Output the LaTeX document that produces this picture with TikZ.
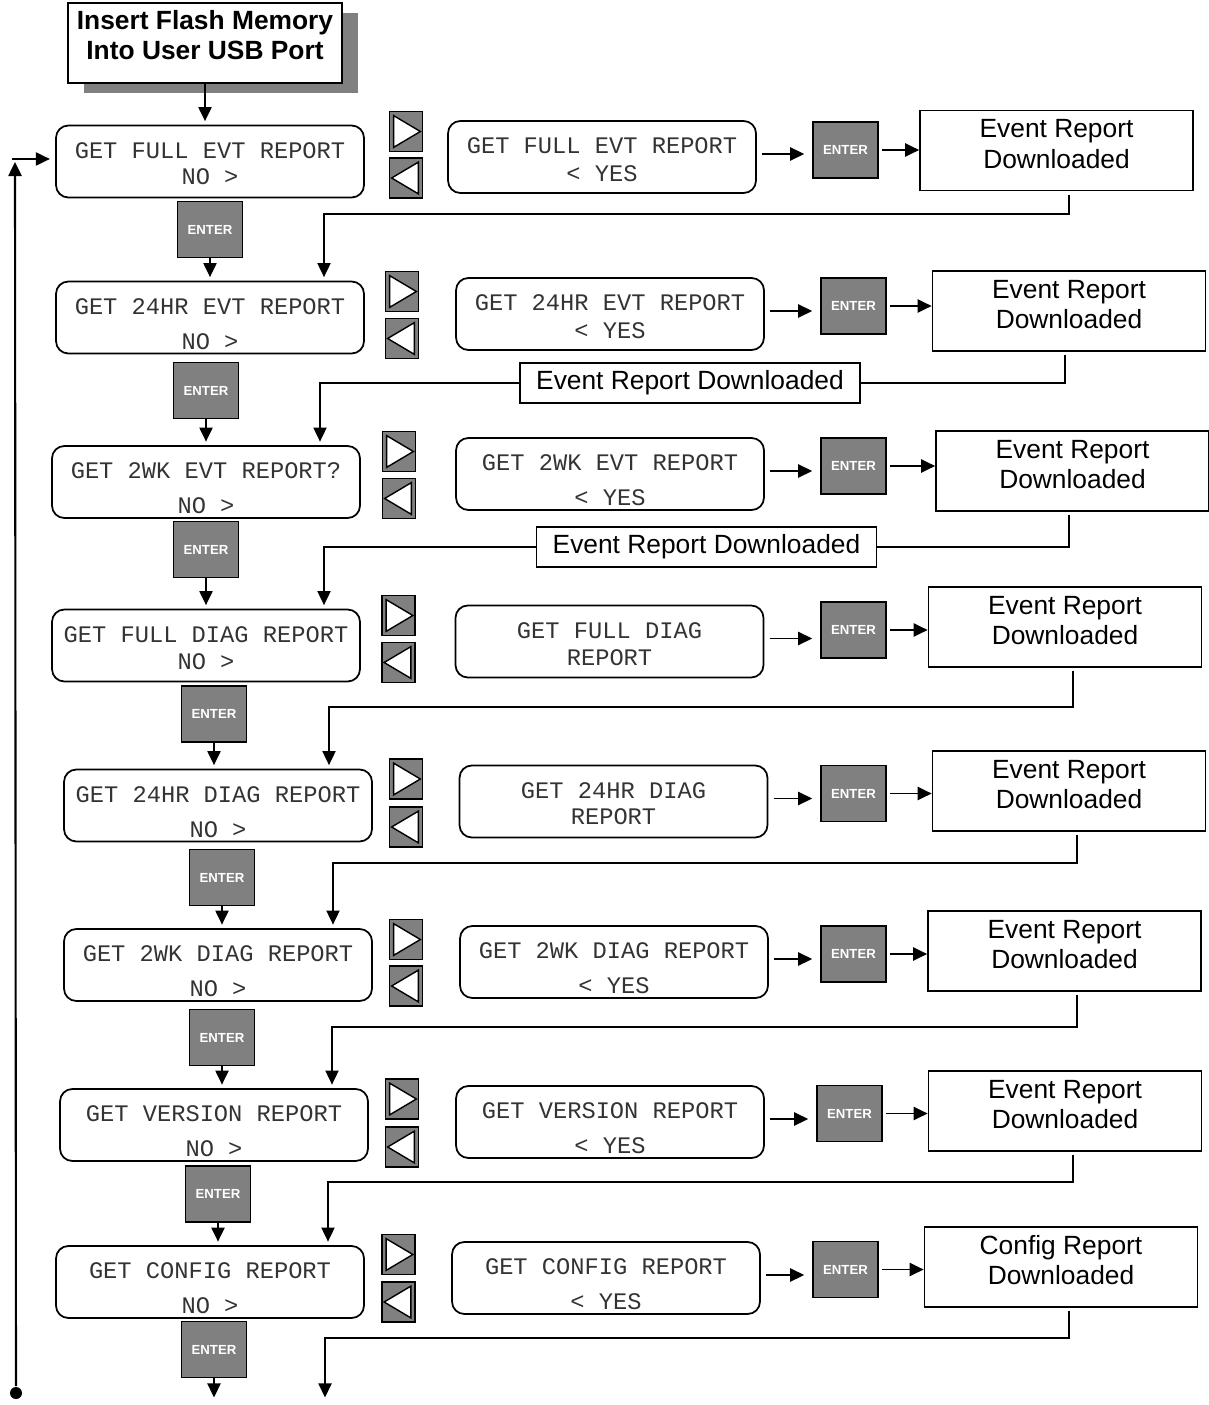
\documentclass[tikz,border=0pt]{standalone}
\usepackage{fontspec}
\setmainfont{Liberation Sans}
\setmonofont{Liberation Mono}
\usetikzlibrary{arrows.meta, shadows}
\definecolor{btngray}{RGB}{128,128,128}
\newcommand{\twolines}[3]{\begin{tabular}[t]{@{}c@{}}#1\\[#3]#2\end{tabular}}

\begin{document}
\begin{tikzpicture}[x=0.02cm, y=-0.02cm, line width=1pt,
  lcd/.style={draw, rounded corners=7pt, minimum width=6.16cm, minimum height=1.44cm,
    font=\ttfamily\fontsize{13.5}{16}\selectfont, text=black!80,
    text height=0pt, text depth=3.6pt},
  enterbtn/.style={draw, fill=btngray, minimum width=1.3cm, minimum height=1.12cm,
    text=white, font=\bfseries\fontsize{7.5}{9}\selectfont},
  navbtn/.style={draw, fill=btngray, minimum width=0.66cm, minimum height=0.8cm, inner sep=0pt},
  result/.style={draw, minimum width=5.46cm, minimum height=1.6cm, align=center,
    font=\fontsize{15}{17.5}\selectfont, text height=20.4pt, text depth=0pt},
  dlbox/.style={draw, fill=white, minimum width=6.8cm, minimum height=0.8cm,
    font=\fontsize{15}{18}\selectfont},
  arr/.style={-{Triangle[length=8pt, width=7.5pt]}}]
  \useasboundingbox (0,0) rectangle (1209,1405);

  % Start box
  \node[draw, fill=white, minimum width=5.48cm, minimum height=1.6cm, align=center,
        font=\bfseries\fontsize{15}{17}\selectfont, text height=18.8pt, text depth=0pt,
        drop shadow={shadow xshift=0.32cm, shadow yshift=-0.2cm, fill=btngray, opacity=1}]
        (title) at (205,43) {Insert Flash Memory\\Into User USB Port};

  % Left column: NO screens
  \foreach \i/\x/\y/\lineA/\gap/\ex/\ey in {
      1/210/161.5/GET FULL EVT REPORT/-1pt/210/229.5,
      2/210/317.5/GET 24HR EVT REPORT/3.8pt/206/390.5,
      3/206/482/GET 2WK EVT REPORT?/3.8pt/206/549.5,
      4/206/645.5/GET FULL DIAG REPORT/-0.5pt/214/714,
      5/218/805.5/GET 24HR DIAG REPORT/3.8pt/222/877.5,
      6/218/965/GET 2WK DIAG REPORT/3.8pt/222/1037.5,
      7/214/1125/GET VERSION REPORT/3.8pt/218/1194,
      8/210/1282/GET CONFIG REPORT/3.8pt/214/1349.5}{
    \node[lcd] (l\i) at (\x,\y) {\twolines{\lineA}{NO >}{\gap}};
    \node[enterbtn] (e\i) at (\ex,\ey) {ENTER};
  }
  \coordinate (l9) at (213,1401);
  \draw[arr, shorten >=2pt] (title.south) -- (title.south |- l1.north);
  \foreach \i in {1,...,8}{
    \pgfmathtruncatemacro\j{\i+1}
    \draw[arr, shorten >=2pt] (e\i.south) -- (e\i.south |- l\j.north);
  }

  % Arrow keys
  \foreach \i/\x/\ya/\yb in {1/406/131.5/178, 2/402/291.5/338.5, 3/399/451.5/498.5,
      4/398.5/615.5/662.5, 5/406/779/827, 6/406/939.5/986, 7/402/1099/1147,
      8/398.5/1254.5/1302}{
    \node[navbtn] (nr\i) at (\x,\ya) {};
    \node[navbtn] (nl\i) at (\x,\yb) {};
    \draw[fill=white, line width=0.8pt] ([shift={(5,5)}]nr\i.north west)
      -- ([shift={(5,-5)}]nr\i.south west) -- ([shift={(-3,0)}]nr\i.east) -- cycle;
    \draw[fill=white, line width=0.8pt] ([shift={(-5,5)}]nl\i.north east)
      -- ([shift={(-5,-5)}]nl\i.south east) -- ([shift={(3,0)}]nl\i.west) -- cycle;
  }

  % Middle column: YES screens
  \foreach \i/\x/\y/\lineA/\lineB/\gap/\ex/\ey in {
      1/602/157/GET FULL EVT REPORT/< YES/-0.5pt/845.5/150,
      2/610/314/GET 24HR EVT REPORT/< YES/-0.5pt/853.5/306,
      3/610/474/GET 2WK EVT REPORT/< YES/3.8pt/853.5/466,
      4/609.5/641.5/GET FULL DIAG/REPORT/-0.5pt/853.5/630,
      5/613.5/801.5/GET 24HR DIAG/REPORT/-1pt/853.5/793.5,
      6/614/962/GET 2WK DIAG REPORT/< YES/3.8pt/853.5/954,
      7/610/1122/GET VERSION REPORT/< YES/3.8pt/849.5/1113.5,
      8/606/1278/GET CONFIG REPORT/< YES/3.8pt/845.5/1269.5}{
    \node[lcd] (m\i) at (\x,\y) {\twolines{\lineA}{\lineB}{\gap}};
    \node[enterbtn] (me\i) at (\ex,\ey) {ENTER};
    \draw[arr, shorten <=3pt, shorten >=4.5pt] ([yshift=0.06cm]m\i.east) -- ([yshift=0.06cm]m\i.east -| me\i.west);
  }

  % Right column: downloaded
  \foreach \i/\x/\y/\lineA in {1/1056.5/150.5/Event Report, 2/1069/311/Event Report,
      3/1072.5/471/Event Report, 4/1065/627/Event Report, 5/1069/791/Event Report,
      6/1064.5/951/Event Report, 7/1065/1111/Event Report, 8/1061/1267/Config Report}{
    \node[result] (r\i) at (\x,\y) {\lineA\\Downloaded};
    \draw[arr, shorten <=2pt] (me\i.east) -- (me\i.east -| r\i.west);
  }

  % Back to next screen
  \foreach \i/\sx/\ty/\tx in {1/1069/214/324, 2/1065/383/320, 3/1069/547/324,
      4/1073/707/329, 5/1077/863/333, 6/1077/1027/332, 7/1073/1182/328, 8/1069/1338/325}{
    \pgfmathtruncatemacro\j{\i+1}
    \coordinate (t\i) at (\sx,\ty);
    \coordinate (c\i) at (\tx,\ty);
    \draw[arr, line width=0.8pt, shorten <=2pt, shorten >=2pt]
      (t\i |- r\i.south) -- (t\i) -- (c\i) -- (c\i |- l\j.north);
  }
  \node[dlbox] (d2) at (690,383) {Event Report Downloaded};
  \node[dlbox] (d3) at (706.5,547) {Event Report Downloaded};

  % Loop to the first screen
  \node[circle, fill, inner sep=0pt, minimum size=0.24cm] (loop) at (16,1393) {};
  \coordinate (up) at (15,162);
  \coordinate (back) at (12,159);
  \draw[arr, line width=1.2pt] (loop) -- (up);
  \draw[arr, shorten >=3pt] (back) -- (back -| l1.west);
\end{tikzpicture}
\end{document}
